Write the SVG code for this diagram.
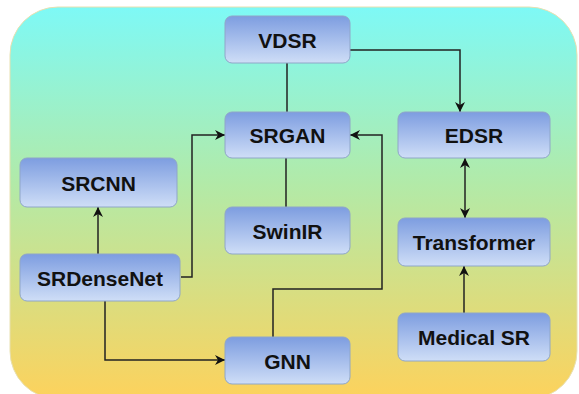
<svg xmlns="http://www.w3.org/2000/svg" width="579" height="394" viewBox="0 0 579 394">
<defs>
<linearGradient id="bg" x1="0" y1="0" x2="0" y2="1">
<stop offset="0" stop-color="#7ef9f6"/>
<stop offset="0.45" stop-color="#b2eaa8"/>
<stop offset="1" stop-color="#fdd25c"/>
</linearGradient>
<linearGradient id="nd" x1="0" y1="0" x2="0" y2="1">
<stop offset="0" stop-color="#7d9de0"/>
<stop offset="1" stop-color="#cfdef7"/>
</linearGradient>
<marker id="ah" viewBox="0 0 10 10" refX="10" refY="5" markerWidth="10" markerHeight="10" markerUnits="userSpaceOnUse" orient="auto-start-reverse">
<path d="M0,0 L10,5 L0,10 L3,5 z" fill="#111"/>
</marker>
<style>
.n rect{fill:url(#nd);stroke:#8fa6c8;stroke-width:1}
.n text{font-family:"Liberation Sans",Arial,sans-serif;font-weight:bold;font-size:21px;fill:#111;text-anchor:middle;dominant-baseline:central}
.c{fill:none;stroke:#222;stroke-width:1.5}
</style>
</defs>
<rect x="10" y="7" width="567" height="392" rx="48" ry="48" fill="url(#bg)" stroke="#e8e0b0" stroke-width="1"/>
<g id="connectors">
<path class="c" d="M287,63 V112"/>
<path class="c" d="M286,158 V207"/>
<path class="c" d="M350,50 H460 V112" marker-end="url(#ah)"/>
<path class="c" d="M465,158 V218" marker-start="url(#ah)" marker-end="url(#ah)"/>
<path class="c" d="M464,313 V266" marker-end="url(#ah)"/>
<path class="c" d="M181,277 H192 V135 H225" marker-end="url(#ah)"/>
<path class="c" d="M98,254 V207" marker-end="url(#ah)"/>
<path class="c" d="M105,301 V360 H225" marker-end="url(#ah)"/>
<path class="c" d="M273,337 V289 H382 V135 H350" marker-end="url(#ah)"/>
</g>
<g id="VDSR" class="n"><rect x="225" y="16" width="125" height="47" rx="7"/><text x="287.5" y="40">VDSR</text></g>
<g id="SRGAN" class="n"><rect x="225" y="112" width="125" height="46" rx="7"/><text x="287.5" y="135">SRGAN</text></g>
<g id="EDSR" class="n"><rect x="398" y="112" width="152" height="46" rx="7"/><text x="474" y="135">EDSR</text></g>
<g id="SRCNN" class="n"><rect x="20" y="158" width="157" height="49" rx="7"/><text x="98.5" y="183">SRCNN</text></g>
<g id="SwinIR" class="n"><rect x="225" y="207" width="125" height="47" rx="7"/><text x="287.5" y="231">SwinIR</text></g>
<g id="Transformer" class="n"><rect x="398" y="218" width="152" height="48" rx="7"/><text x="474" y="242">Transformer</text></g>
<g id="SRDenseNet" class="n"><rect x="20" y="254" width="160" height="47" rx="7"/><text x="100" y="278">SRDenseNet</text></g>
<g id="MedicalSR" class="n"><rect x="398" y="313" width="152" height="48" rx="7"/><text x="474" y="337">Medical SR</text></g>
<g id="GNN" class="n"><rect x="225" y="337" width="125" height="47" rx="7"/><text x="287.5" y="361">GNN</text></g>
</svg>
